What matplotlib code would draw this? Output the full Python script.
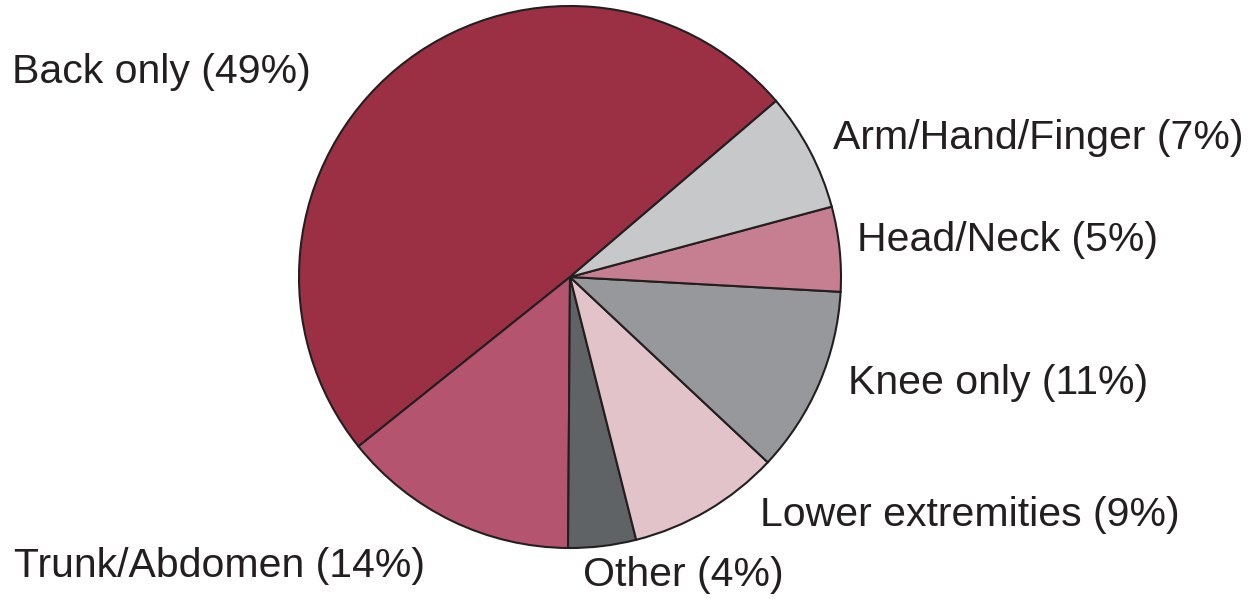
import matplotlib

matplotlib.use("Agg")
import matplotlib.pyplot as plt

# slice data, counterclockwise from the Back/Arm boundary
categories = ["Back only", "Trunk/Abdomen", "Other", "Lower extremities",
              "Knee only", "Head/Neck", "Arm/Hand/Finger"]
shares = [49, 14, 4, 9, 11, 5, 7]
colors = ["#9b3045", "#b5546e", "#5f6366", "#e1c3c9",
          "#97989c", "#c67f90", "#c7c8ca"]

# label anchors in pixel coords (left edge, vertical centre)
label_px = {
    "Back only": (12, 72),
    "Arm/Hand/Finger": (833, 138),
    "Head/Neck": (857, 240),
    "Knee only": (848, 383),
    "Lower extremities": (760, 515),
    "Other": (583, 575),
    "Trunk/Abdomen": (14, 566),
}

W, H = 1259, 599
CX, CY, R = 570, 277, 271
TEXT = "#231f20"

plt.rcParams["font.family"] = ["Liberation Sans", "DejaVu Sans"]

fig = plt.figure(figsize=(W / 100, H / 100), dpi=100)
ax = fig.add_axes([0, 0, 1, 1])
ax.pie(
    shares,
    colors=colors,
    startangle=40.5,
    counterclock=True,
    radius=1.0,
    wedgeprops={"edgecolor": TEXT, "linewidth": 1.5},
)
ax.set_xlim(-CX / R, (W - CX) / R)
ax.set_ylim(-(H - CY) / R, CY / R)
ax.set_aspect("equal")
ax.axis("off")

for name, pct in zip(categories, shares):
    px, py = label_px[name]
    ax.text((px - CX) / R, (CY - py) / R, f"{name} ({pct}%)",
            ha="left", va="center", fontsize=29.5, color=TEXT)

fig.savefig("out.png", dpi=100, facecolor="white")
